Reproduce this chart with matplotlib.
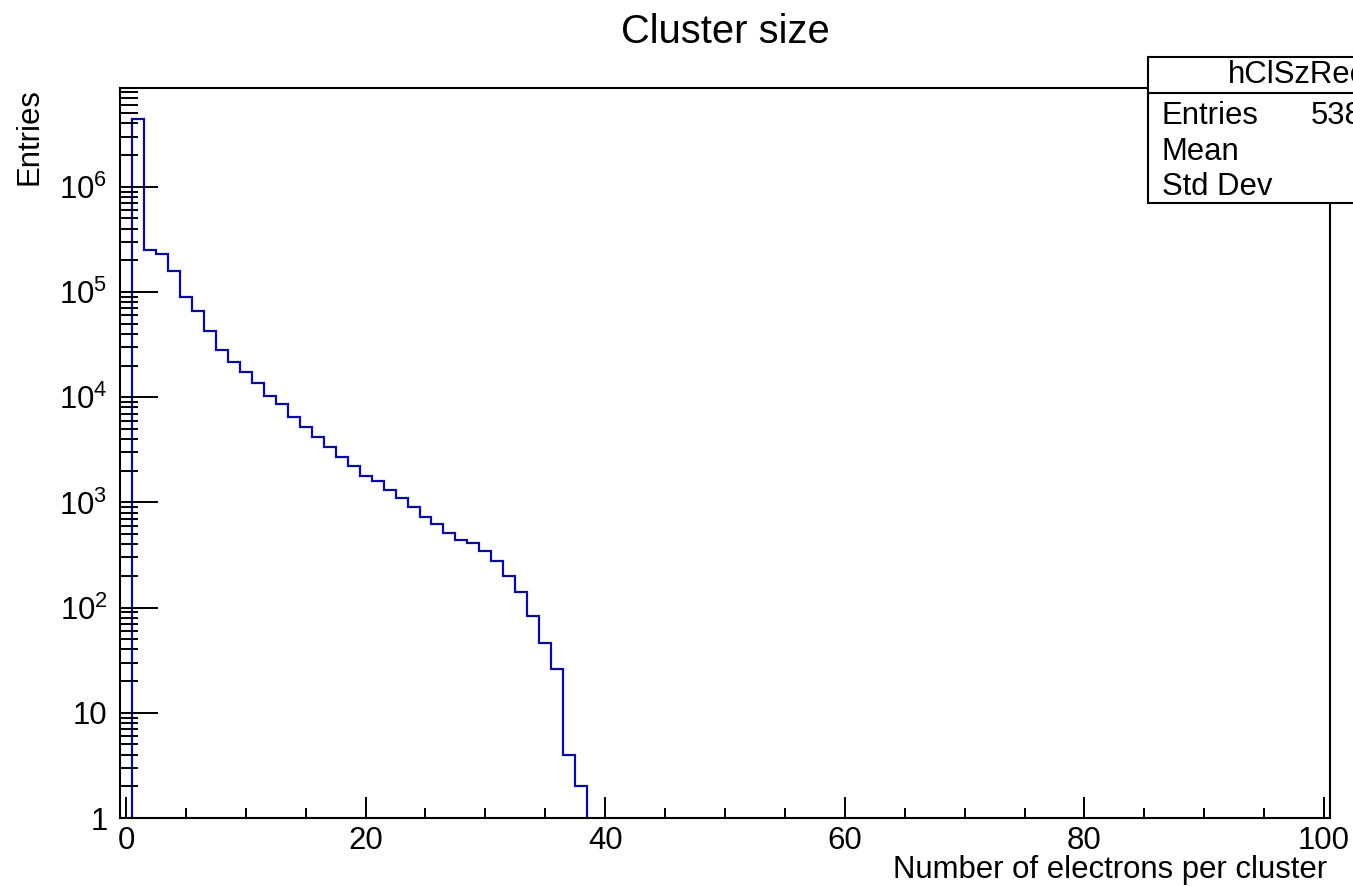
"""Cluster size histogram (ROOT-style, log y)."""
import numpy as np
import matplotlib
matplotlib.use('Agg')
import matplotlib.pyplot as plt
from matplotlib.patches import Rectangle
from matplotlib.ticker import FixedLocator, MultipleLocator, LogLocator, NullFormatter

plt.rcParams['font.family'] = ['Liberation Sans', 'DejaVu Sans']
plt.rcParams['mathtext.fontset'] = 'custom'
plt.rcParams['mathtext.rm'] = 'Liberation Sans'

# histogram: 101 bins of width 1 from -0.5 to 100.5, only bins 1..38 filled
x_range = (-0.5, 100.5)
first_bin = 1
counts = [4410000, 252000, 231000, 159000, 90000, 66000, 43000, 28000, 21700, 17400,
          13700, 10200, 8600, 6500, 5200, 4200, 3400, 2700, 2200, 1790,
          1600, 1310, 1110, 906, 728, 624, 512, 440, 412, 346,
          278, 200, 141, 83, 46, 26, 4, 2]
y_ticks = [1, 10, 100, 1000, 10000, 100000, 1000000]
y_labels = ['1', '10', r'$\mathregular{10^{2}}$', r'$\mathregular{10^{3}}$',
            r'$\mathregular{10^{4}}$', r'$\mathregular{10^{5}}$', r'$\mathregular{10^{6}}$']
x_ticks = [0, 20, 40, 60, 80, 100]

counts = np.array(counts, dtype=float)
edges = np.arange(len(counts) + 1) + first_bin - 0.5
centres = edges[:-1] + 0.5
n_entries = int(counts.sum())
mean = (counts * centres).sum() / counts.sum()
std = np.sqrt((counts * (centres - mean) ** 2).sum() / counts.sum())

W, H = 1353, 886
FS = 22.4
fig = plt.figure(figsize=(W / 100, H / 100), dpi=100)
ax = fig.add_axes([120 / W, 1 - 818 / H, (1330 - 120) / W, (818 - 88) / H])

ax.stairs(counts, edges, baseline=1e-3, color='#0a0a9e', linewidth=1.6)
ax.set_yscale('log')
ax.set_xlim(*x_range)
ax.set_ylim(1, 8.7e6)

ax.yaxis.set_major_locator(FixedLocator(y_ticks))
ax.set_yticklabels(y_labels)
ax.yaxis.set_minor_locator(LogLocator(base=10, subs=np.arange(2, 10), numticks=20))
ax.yaxis.set_minor_formatter(NullFormatter())
ax.xaxis.set_major_locator(FixedLocator(x_ticks))
ax.xaxis.set_minor_locator(MultipleLocator(5))

ax.tick_params(axis='both', which='both', direction='in', color='black', width=1.4,
               top=False, right=False, labelsize=FS)
ax.tick_params(axis='y', which='major', length=27, pad=9)
ax.tick_params(axis='y', which='minor', length=13)
ax.tick_params(axis='x', which='major', length=15, pad=6)
ax.tick_params(axis='x', which='minor', length=7)
for sp in ax.spines.values():
    sp.set_linewidth(1.5)

fig.text(725 / W, 1 - 32 / H, 'Cluster size', ha='center', va='center', fontsize=28.7)
fig.text(1327 / W, 1 - 878 / H, 'Number of electrons per cluster', ha='right',
         va='baseline', fontsize=FS)
fig.text(30 / W, 1 - 88 / H, 'Entries', rotation=90, ha='center', va='top', fontsize=FS)

# stats box (runs off the right edge of the canvas)
box = Rectangle((1148 / W, 1 - 203 / H), 400 / W, (203 - 57) / H, transform=fig.transFigure,
                facecolor='white', edgecolor='black', linewidth=1.5, zorder=5)
fig.add_artist(box)
fig.add_artist(plt.Line2D([1148 / W, 1], [1 - 93 / H, 1 - 93 / H], transform=fig.transFigure,
                          color='black', linewidth=1.5, zorder=6))
fig.text(1228 / W, 1 - 75 / H, 'hClSzRec', ha='left', va='center', fontsize=FS, zorder=7)
rows = [('Entries', f'{n_entries}'), ('Mean', f'{mean:.3f}'), ('Std Dev', f'{std:.3f}')]
for i, (name, val) in enumerate(rows):
    y = 1 - (116 + 35.5 * i) / H
    fig.text(1162 / W, y, name, ha='left', va='center', fontsize=FS, zorder=7)
    if i == 0:
        fig.text(1311 / W, y, val, ha='left', va='center', fontsize=FS, zorder=7)
    else:
        fig.text(1500 / W, y, val, ha='right', va='center', fontsize=FS, zorder=7)

fig.savefig('out.png', dpi=100)
plt.close(fig)
